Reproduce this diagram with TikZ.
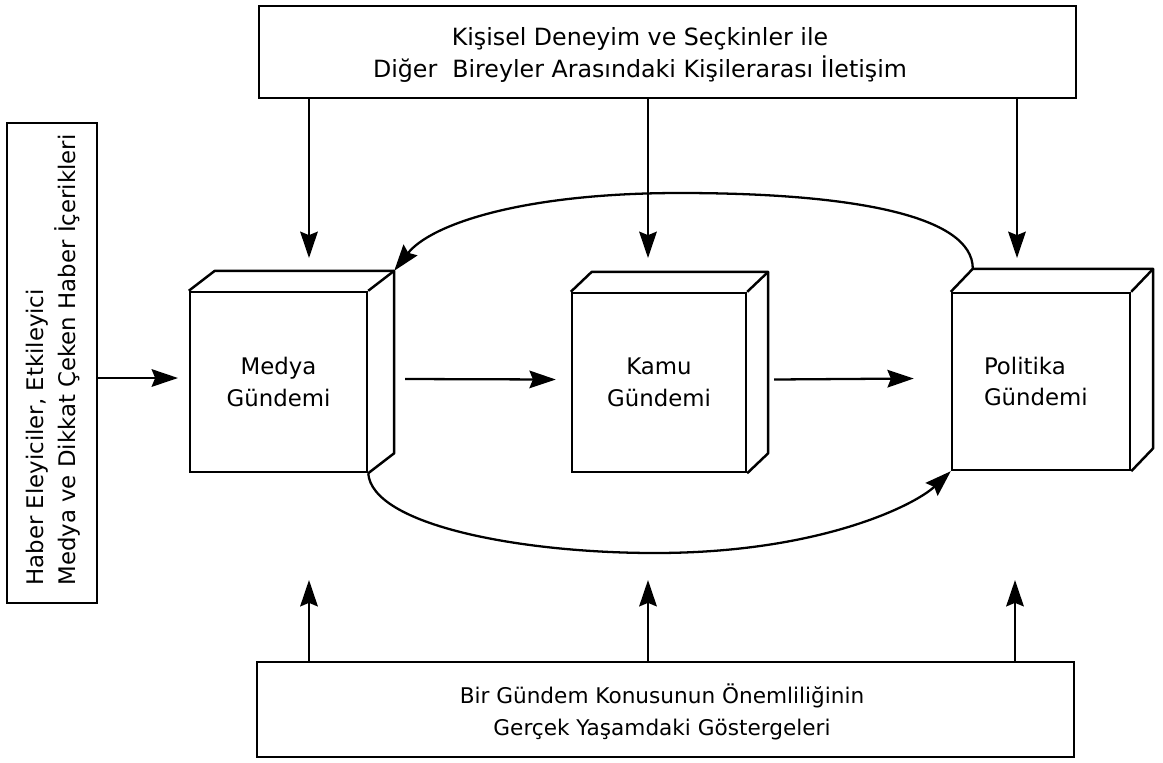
\documentclass[tikz,border=0pt]{standalone}
\usepackage{fontspec}
\setmainfont{DejaVu Sans}
\usetikzlibrary{arrows.meta}
\begin{document}
\begin{tikzpicture}[x=0.02cm,y=-0.02cm,
  arr/.style={-{Stealth[length=15pt,width=10pt,inset=2pt]}, line width=1.3pt},
  frame/.style={draw, line width=1.2pt, inner sep=0pt},
  face/.style={draw, line width=1.4pt, inner sep=0pt, align=center, font=\fontsize{13}{18}\selectfont},
  edge3d/.style={draw, line width=1.4pt, line join=round},
  txt/.style={font=\fontsize{13.5}{18}\selectfont, align=center, inner sep=0pt}]
\useasboundingbox (0,0) rectangle (1163,762);

% outer boxes
\node[frame, minimum width=16.34cm, minimum height=1.84cm] (topbox) at (667.5,52) {};
\node[txt] (toptext) at (640,55) {Kişisel Deneyim ve Seçkinler ile\\Diğer\ \ Bireyler Arasındaki Kişilerarası İletişim};
\node[frame, minimum width=16.34cm, minimum height=1.9cm] (botbox) at (665.5,709.5) {};
\node[txt, font=\fontsize{12.3}{18}\selectfont] (bottext) at (662,712) {Bir Gündem Konusunun Önemliliğinin\\Gerçek Yaşamdaki Göstergeleri};
\node[frame, minimum width=1.8cm, minimum height=9.6cm] (leftbox) at (52,363) {};
\node[txt, rotate=90, align=left, font=\fontsize{13}{18}\selectfont] (lefttext) at (53,360) {Haber Eleyiciler, Etkileyici\\Medya ve Dikkat Çeken Haber İçerikleri};

% 3D boxes
\node[face, minimum width=3.54cm, minimum height=3.6cm] (medya) at (278.5,382) {Medya\\Gündemi};
\draw[edge3d] (medya.north west) -- ++(26,-20) -| ([shift={(26,-20)}]medya.south east) -- (medya.south east);
\draw[edge3d] (medya.north east) -- ++(26,-20);

\node[face, minimum width=3.48cm, minimum height=3.58cm] (kamu) at (659,382.5) {Kamu\\Gündemi};
\draw[edge3d] (kamu.north west) -- ++(21,-20) -| ([shift={(21,-20)}]kamu.south east) -- (kamu.south east);
\draw[edge3d] (kamu.north east) -- ++(21,-20);

\node[face, minimum width=3.56cm, minimum height=3.54cm, align=left, text width=2.28cm] (politika) at (1041,381.5) {Politika\\Gündemi};
\draw[edge3d] (politika.north west) -- ++(22,-23) -| ([shift={(22,-23)}]politika.south east) -- (politika.south east);
\draw[edge3d] (politika.north east) -- ++(22,-23);

% free ends
\coordinate (tL) at (178,378);
\coordinate (t1) at (309,258);
\coordinate (t2) at (648,258);
\coordinate (t3) at (1017,258);
\coordinate (b1) at (309,580);
\coordinate (b2) at (648,580);
\coordinate (b3) at (1015,580);

% connectors
\draw[arr] (leftbox.east |- tL) -- (tL);
\draw[arr] ([shift={(37,-3)}]medya.east) -- ([shift={(-15,-3)}]kamu.west);
\draw[arr] ([shift={(27,-3)}]kamu.east) -- ([shift={(-37,-3)}]politika.west);
\draw[arr] (topbox.south -| t1) -- (t1);
\draw[arr] (topbox.south -| t2) -- (t2);
\draw[arr] (topbox.south -| t3) -- (t3);
\draw[arr] (botbox.north -| b1) -- (b1);
\draw[arr] (botbox.north -| b2) -- (b2);
\draw[arr] (botbox.north -| b3) -- (b3);

% feedback arcs
\draw[arr] ([shift={(22,-23)}]politika.north west) .. controls (973,215) and (850,193) .. (680,193) .. controls (520,193) and (430,225) .. ([shift={(26,-20)}]medya.north east);
\draw[arr] (medya.south east) .. controls (372,525) and (520,553) .. (655,553) .. controls (820,553) and (915,505) .. (politika.south west);
\end{tikzpicture}
\end{document}
